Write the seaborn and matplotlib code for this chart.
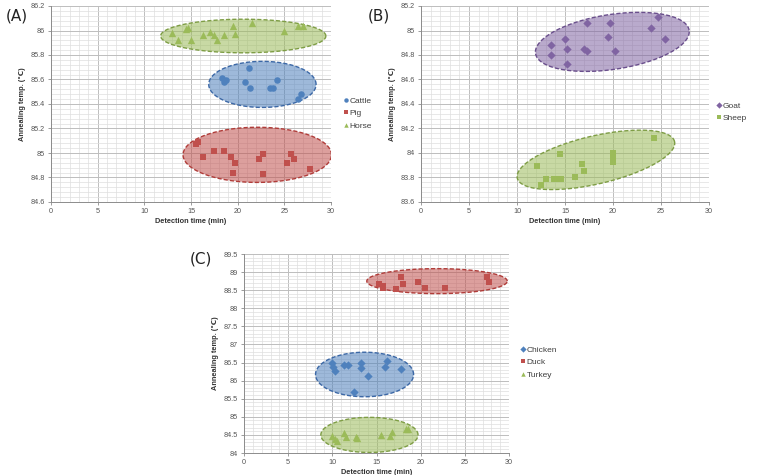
import numpy as np
import pandas as pd
import matplotlib
matplotlib.use("Agg")
import matplotlib.pyplot as plt
import seaborn as sns
from matplotlib.ticker import MultipleLocator, FuncFormatter
from matplotlib.lines import Line2D
from matplotlib.patches import Polygon

# ---------------- data ----------------
# Panel A
horse_x = [13.0, 13.6, 14.5, 14.7, 15.0, 16.25, 17.0, 17.5, 17.8, 18.5, 19.5, 19.75, 21.5, 25.0, 26.5, 27.0]
horse_y = [85.98, 85.92, 86.01, 86.02, 85.92, 85.96, 85.99, 85.96, 85.92, 85.96, 86.04, 85.97, 86.06, 86.00, 86.04, 86.04]
cattle_x = [18.3, 18.5, 18.8, 20.8, 21.25, 21.3, 23.5, 23.8, 24.25, 26.5, 26.8]
cattle_y = [85.61, 85.58, 85.60, 85.58, 85.69, 85.53, 85.53, 85.53, 85.60, 85.44, 85.48]
pig_x = [15.5, 15.8, 16.3, 17.5, 18.5, 19.3, 19.75, 19.5, 22.25, 22.75, 22.75, 25.3, 25.75, 26.0, 27.75]
pig_y = [85.07, 85.09, 84.97, 85.02, 85.02, 84.97, 84.92, 84.84, 84.95, 84.99, 84.83, 84.92, 84.99, 84.95, 84.87]

# Panel B
goat_x = [13.5, 13.5, 15.0, 15.25, 15.25, 17.25, 17.0, 17.25, 19.5, 19.7, 20.2, 24.0, 24.7, 25.45]
goat_y = [84.88, 84.80, 84.93, 84.85, 84.73, 85.06, 84.85, 84.83, 84.95, 85.06, 84.83, 85.02, 85.11, 84.93]
sheep_x = [12.05, 12.5, 13.0, 13.9, 14.2, 14.55, 14.5, 16.0, 16.73, 17.0, 20.0, 20.0, 20.0, 24.25]
sheep_y = [83.89, 83.74, 83.79, 83.79, 83.79, 83.79, 83.99, 83.80, 83.91, 83.85, 84.00, 83.96, 83.93, 84.12]

# Panel C
chicken_x = [10.0, 10.04, 10.26, 11.3, 11.8, 13.25, 13.25, 14.0, 12.5, 16.2, 16.0, 17.8]
chicken_y = [86.50, 86.38, 86.28, 86.44, 86.43, 86.49, 86.35, 86.13, 85.68, 86.55, 86.37, 86.31]
duck_x = [15.25, 15.7, 15.74, 17.25, 17.77, 18.0, 19.74, 20.5, 22.75, 27.47, 27.74]
duck_y = [88.67, 88.61, 88.56, 88.52, 88.87, 88.67, 88.73, 88.57, 88.57, 88.87, 88.73]
turkey_x = [10.0, 10.3, 10.5, 11.3, 11.5, 12.7, 12.75, 15.5, 16.5, 16.8, 18.3, 18.6]
turkey_y = [84.47, 84.38, 84.33, 84.55, 84.45, 84.45, 84.42, 84.50, 84.48, 84.58, 84.65, 84.65]

# grouping ellipses: (center x, center y, semi-axis x-units, semi-axis y-units, angle deg)
ell_A = {"Horse": (20.6, 85.955, 8.85, 0.137, 0),
         "Cattle": (22.65, 85.56, 5.75, 0.188, 0),
         "Pig": (22.1, 84.985, 7.95, 0.225, 0)}
ell_B = {"Goat": (19.93, 84.907, 8.09, 0.224, 8.6),
         "Sheep": (18.22, 83.944, 8.41, 0.196, 13.1)}
ell_C = {"Duck": (21.85, 88.75, 7.95, 0.345, 0),
         "Chicken": (13.65, 86.17, 5.55, 0.615, 0),
         "Turkey": (14.2, 84.5, 5.5, 0.485, 0)}

BLUE, RED, GREEN, PURPLE = "#4F81BD", "#C0504D", "#9BBB59", "#8064A2"
EDGE = {BLUE: "#3C68A6", RED: "#B03C39", GREEN: "#7E9D45", PURPLE: "#6A4F8C"}

FONT = "Liberation Sans"
sns.set_theme(style="white")
plt.rcParams["font.family"] = [FONT, "DejaVu Sans"]

fig = plt.figure(figsize=(7.64, 4.75), dpi=100)

def fig_rect(l, t, r, b):
    W, H = 764.0, 475.0
    return [l / W, 1 - b / H, (r - l) / W, (b - t) / H]

def style_axes(ax, ymin, ymax, ymaj, ymin_step):
    ax.set_xlim(0, 30)
    ax.set_ylim(ymin, ymax)
    ax.xaxis.set_major_locator(MultipleLocator(5))
    ax.xaxis.set_minor_locator(MultipleLocator(1))
    ax.yaxis.set_major_locator(MultipleLocator(ymaj))
    ax.yaxis.set_minor_locator(MultipleLocator(ymin_step))
    fmt = FuncFormatter(lambda v, p: ("%.2f" % v).rstrip("0").rstrip("."))
    ax.yaxis.set_major_formatter(fmt)
    ax.grid(True, which="major", color="#bdbdbd", linewidth=0.7)
    ax.grid(True, which="minor", color="#dedede", linewidth=0.5)
    ax.set_axisbelow(True)
    for s in ["top", "right"]:
        ax.spines[s].set_visible(False)
    for s in ["left", "bottom"]:
        ax.spines[s].set_color("#8c8c8c")
        ax.spines[s].set_linewidth(0.7)
    ax.tick_params(which="major", length=2.5, width=0.6, color="#8c8c8c",
                   labelsize=5.2, labelcolor="#555555", pad=2, bottom=True, left=True)
    ax.tick_params(which="minor", length=0)

def draw_ellipse(ax, params, color):
    cx, cy, a, b, ang = params
    x0, x1 = ax.get_xlim(); y0, y1 = ax.get_ylim()
    sx = ax.bbox.width / (x1 - x0)
    sy = ax.bbox.height / (y1 - y0)
    t = np.linspace(0, 2 * np.pi, 200)
    apx, bpx = a * sx, b * sy
    th = np.deg2rad(ang)
    dx = apx * np.cos(t) * np.cos(th) - bpx * np.sin(t) * np.sin(th)
    dy = apx * np.cos(t) * np.sin(th) + bpx * np.sin(t) * np.cos(th)
    pts = np.column_stack([cx + dx / sx, cy + dy / sy])
    ax.add_patch(Polygon(pts, closed=True, facecolor=color, alpha=0.55, edgecolor="none", zorder=1))
    ax.add_patch(Polygon(pts, closed=True, facecolor="none", edgecolor=EDGE[color],
                         linestyle=(0, (3, 1.5)), linewidth=1.0, zorder=1.5))

def panel(rect, groups, ylims, label, label_pos, leg_pos):
    ax = fig.add_axes(fig_rect(*rect))
    style_axes(ax, *ylims)
    frames = []
    for name, xs, ys, color, marker, size, ell in groups:
        frames.append(pd.DataFrame({"x": xs, "y": ys, "group": name}))
    df = pd.concat(frames, ignore_index=True)
    for name, xs, ys, color, marker, size, ell in groups:
        draw_ellipse(ax, ell, color)
    for name, xs, ys, color, marker, size, ell in groups:
        sub = df[df["group"] == name]
        sns.scatterplot(data=sub, x="x", y="y", color=color, marker=marker, s=size,
                        linewidth=0, ax=ax, legend=False, zorder=3)
    ax.set_xlabel("Detection time (min)", fontsize=5.3, fontweight="bold", color="#333333", labelpad=2)
    ax.set_ylabel("Annealing temp. (\u2103)", fontsize=5.3, fontweight="bold", color="#333333", labelpad=3)
    handles = [Line2D([], [], linestyle="none", marker=g[4], color=g[3], markersize=3.2,
                      markeredgewidth=0) for g in groups]
    fig.legend(handles, [g[0] for g in groups], loc="upper left",
               bbox_to_anchor=(leg_pos[0] / 764, 1 - leg_pos[1] / 475), frameon=False,
               fontsize=6, labelcolor="#404040", handlelength=0.6, handletextpad=0.2,
               labelspacing=0.55, borderpad=0, borderaxespad=0)
    fig.text(label_pos[0] / 764, 1 - label_pos[1] / 475, label, fontsize=11,
             color="#222222", va="center", ha="left", family="DejaVu Sans")
    return ax

axA = panel((51, 6, 331, 202),
            [("Cattle", cattle_x, cattle_y, BLUE, "o", 22, ell_A["Cattle"]),
             ("Pig", pig_x, pig_y, RED, "s", 24, ell_A["Pig"]),
             ("Horse", horse_x, horse_y, GREEN, "^", 28, ell_A["Horse"])],
            (84.6, 86.2, 0.2, 0.04), "(A)", (6, 16), (343, 97))

axB = panel((421, 6, 709, 202),
            [("Goat", goat_x, goat_y, PURPLE, "D", 18, ell_B["Goat"]),
             ("Sheep", sheep_x, sheep_y, GREEN, "s", 22, ell_B["Sheep"])],
            (83.6, 85.2, 0.2, 0.04), "(B)", (368, 16), (716, 102))

axC = panel((244, 254, 509, 453),
            [("Chicken", chicken_x, chicken_y, BLUE, "D", 18, ell_C["Chicken"]),
             ("Duck", duck_x, duck_y, RED, "s", 22, ell_C["Duck"]),
             ("Turkey", turkey_x, turkey_y, GREEN, "^", 28, ell_C["Turkey"])],
            (84.0, 89.5, 0.5, 0.1), "(C)", (190, 259), (520, 346))

fig.savefig("out.png", dpi=100, facecolor="white")
